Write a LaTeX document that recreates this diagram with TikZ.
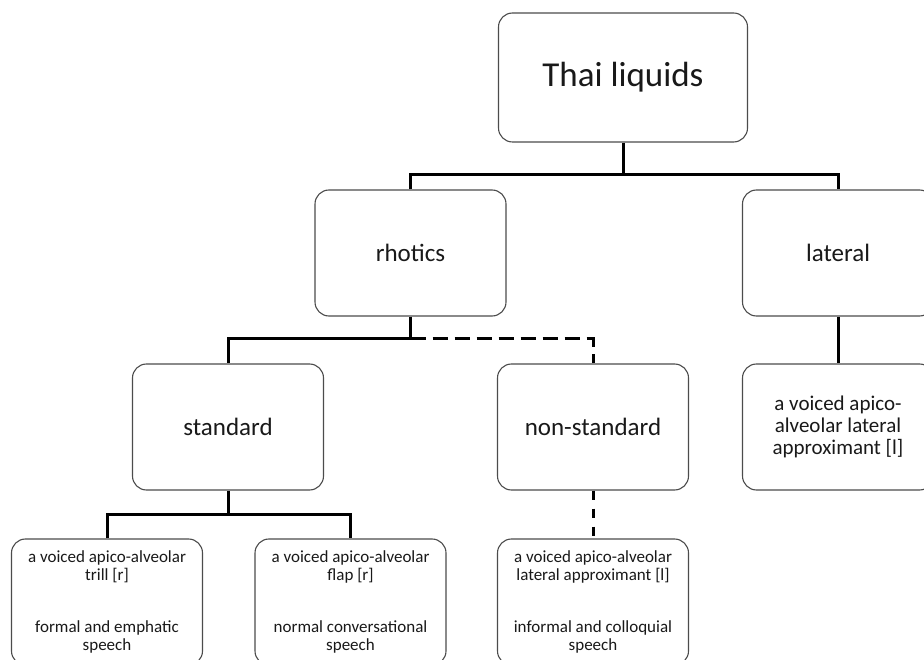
\documentclass[tikz,border=0pt]{standalone}
\usepackage{fontspec}
\setmainfont{Carlito}
\begin{document}
\begin{tikzpicture}[x=1pt,y=-1pt,
  box/.style={draw=black!70, line width=1.1pt, rounded corners=14pt, fill=white,
    minimum width=191pt, minimum height=126pt, inner sep=0pt, align=center, text=black!90},
  big/.style={font=\fontsize{35}{40}\selectfont},
  mid/.style={font=\fontsize{25}{30}\selectfont},
  small/.style={font=\fontsize{17}{17.5}\selectfont},
  latsmall/.style={font=\fontsize{21}{22}\selectfont},
  link/.style={draw=black, line width=3pt},
  dlink/.style={draw=black, line width=3pt, dash pattern=on 15pt off 7pt},
  sdlink/.style={draw=black, line width=3pt, dash pattern=on 9pt off 9pt}]
\useasboundingbox (0,0) rectangle (924,660);
\fill[white] (0,0) rectangle (924,660);

\node[box,big,minimum width=249pt,minimum height=129pt] (top) at (623,77.5) {Thai liquids};
\node[box,mid] (rho) at (410.5,253) {rhotics};
\node[box,mid] (lat) at (838,253) {lateral};
\node[box,mid] (std) at (228,427) {standard};
\node[box,mid] (nstd) at (593,427) {non-standard};
\node[box,latsmall] (latc) at (838,427) {a voiced apico-\\alveolar lateral\\approximant [l]};
\node[box,small] (b1) at (107,602) {a voiced apico-alveolar\\trill [r]\\[35pt]formal and emphatic\\speech};
\node[box,small] (b2) at (350.5,602) {a voiced apico-alveolar\\flap [r]\\[35pt]normal conversational\\speech};
\node[box,small] (b3) at (593,602) {a voiced apico-alveolar\\lateral approximant [l]\\[35pt]informal and colloquial\\speech};

\coordinate (j1) at (623,175);
\coordinate (j2) at (410.5,339);
\coordinate (j3) at (228,514);

\draw[link] (top.south) -- (j1);
\draw[link] (rho.north) |- (j1) -| (lat.north);
\draw[link] (rho.south) -- (j2);
\draw[link] (j2) -| (std.north);
\draw[dlink] (j2) -| (nstd.north);
\draw[link] (lat.south) -- (latc.north);
\draw[link] (std.south) -- (j3);
\draw[link] (b1.north) |- (j3) -| (b2.north);
\draw[sdlink] (nstd.south) -- (b3.north);
\end{tikzpicture}
\end{document}
